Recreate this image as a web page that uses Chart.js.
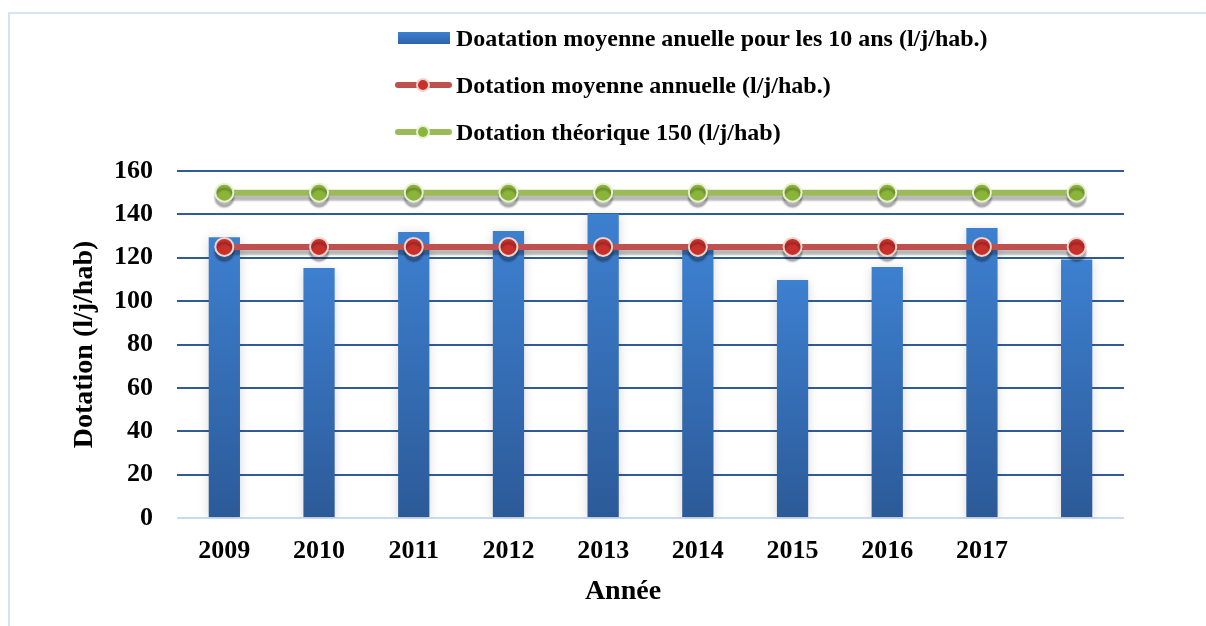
<!DOCTYPE html>
<html>
<head>
<meta charset="utf-8">
<script src="https://cdn.jsdelivr.net/npm/chart.js@4"></script>
<style>
  html, body { margin: 0; padding: 0; background: #fff; overflow: hidden; }
  body { width: 1206px; height: 626px; position: relative; font-family: "Liberation Serif", serif; }
  #frame { position: absolute; left: 8px; top: 12px; width: 1400px; height: 800px; border: 2px solid #d6e3f4; box-sizing: border-box; }
  #chart { position: absolute; left: 0; top: 0; }
  .leg { position: absolute; left: 395px; height: 30px; display: flex; align-items: center; font-weight: bold; font-size: 24px; color: #000; white-space: nowrap; }
  .sw { position: relative; width: 57px; height: 30px; margin-right: 4px; }
  .sw .rect { position: absolute; left: 3px; top: 9px; width: 52px; height: 12px; background: linear-gradient(#3d80d0, #2e62a8); }
  .sw .ln { position: absolute; left: 0; top: 12px; width: 57px; height: 6px; border-radius: 3px; }
  .sw .dot { position: absolute; left: 21px; top: 8px; width: 10px; height: 10px; border-radius: 50%; border: 2px solid; }
  #xtitle { position: absolute; left: 523px; width: 200px; top: 574px; text-align: center; font-weight: bold; font-size: 28px; }
</style>
</head>
<body>
<div id="frame"></div>
<canvas id="chart" width="1206" height="626"></canvas>
<div id="legend"></div>
<div id="xtitle"></div>
<script>
document.addEventListener("DOMContentLoaded", function() {
    const years = ['2009', '2010', '2011', '2012', '2013', '2014', '2015', '2016', '2017', ''];
    const dotationDixAns = [129.5, 115.3, 131.9, 132.3, 140.3, 123.6, 109.7, 115.7, 133.7, 119.2];
    const dotationMoyenne = [125, 125, 125, 125, 125, 125, 125, 125, 125, 125];
    const dotationTheorique = [150, 150, 150, 150, 150, 150, 150, 150, 150, 150];
    const yTicks = [0, 20, 40, 60, 80, 100, 120, 140, 160];

    const labelBar = 'Doatation moyenne anuelle pour les 10 ans (l/j/hab.)';
    const labelMoy = 'Dotation moyenne annuelle (l/j/hab.)';
    const labelTheo = 'Dotation théorique 150 (l/j/hab)';
    const yTitle = 'Dotation (l/j/hab)';
    const xTitle = 'Année';

    const serif = '"Liberation Serif", "Times New Roman", serif';

    // gradient per bar, from its own top to the axis
    function barGradient(context) {
        const chart = context.chart;
        if (!chart.chartArea || context.parsed === undefined) return '#3774c4';
        const yScale = chart.scales.y;
        const top = yScale.getPixelForValue(context.parsed.y);
        const bottom = yScale.getPixelForValue(0);
        const g = chart.ctx.createLinearGradient(0, top, 0, bottom);
        g.addColorStop(0, '#3d80d0');
        g.addColorStop(1, '#2c5a98');
        return g;
    }

    // soft shadows like the office chart
    const shadows = {
        id: 'shadows',
        beforeDatasetDraw(chart, args) {
            const ctx = chart.ctx;
            ctx.save();
            if (args.meta.type === 'bar') {
                ctx.shadowColor = 'rgba(0,0,0,0.16)';
                ctx.shadowBlur = 10;
                ctx.shadowOffsetY = 2;
            } else {
                ctx.shadowColor = 'rgba(0,0,0,0.28)';
                ctx.shadowBlur = 2;
                ctx.shadowOffsetY = 5;
            }
        },
        afterDatasetDraw(chart) {
            chart.ctx.restore();
        }
    };

    const data = {
        labels: years,
        datasets: [
            {
                type: 'bar',
                label: labelBar,
                data: dotationDixAns,
                backgroundColor: barGradient,
                categoryPercentage: 1,
                barPercentage: 0.33,
                order: 3
            },
            {
                type: 'line',
                label: labelMoy,
                data: dotationMoyenne,
                borderColor: '#c0504d',
                borderWidth: 6,
                pointRadius: 9,
                pointBackgroundColor: '#c8302c',
                pointBorderColor: '#f0d4cc',
                pointBorderWidth: 2,
                fill: false,
                order: 1
            },
            {
                type: 'line',
                label: labelTheo,
                data: dotationTheorique,
                borderColor: '#9bbb59',
                borderWidth: 6,
                pointRadius: 9,
                pointBackgroundColor: '#8ab43a',
                pointBorderColor: '#e6f0d2',
                pointBorderWidth: 2,
                fill: false,
                order: 2
            }
        ]
    };

    const options = {
        responsive: false,
        animation: false,
        layout: {
            padding: { left: 0, top: 171, right: 82, bottom: 0 }
        },
        scales: {
            x: {
                grid: { display: false },
                border: { display: false },
                ticks: {
                    color: '#000',
                    padding: 10,
                    font: { family: serif, size: 26, weight: 'bold' }
                },
                afterFit: function(scale) { scale.height = 108; }
            },
            y: {
                min: 0,
                max: 160,
                afterBuildTicks: function(scale) {
                    scale.ticks = yTicks.map(v => ({ value: v }));
                },
                grid: {
                    drawTicks: false,
                    lineWidth: 2,
                    color: function(c) { return c.tick && c.tick.value === 0 ? '#c9dbf2' : '#2f5c98'; }
                },
                border: { display: false },
                ticks: {
                    color: '#000',
                    padding: 24,
                    font: { family: serif, size: 26, weight: 'bold' }
                },
                title: {
                    display: true,
                    text: yTitle,
                    color: '#000',
                    padding: { top: 68, bottom: 0 },
                    font: { family: serif, size: 28, weight: 'bold' }
                },
                afterFit: function(scale) { scale.width = 177; }
            }
        },
        plugins: {
            legend: { display: false },
            tooltip: { enabled: false }
        }
    };

    new Chart(document.getElementById('chart'), {
        data: data,
        options: options,
        plugins: [shadows]
    });

    // legend, built from the datasets
    const legend = document.getElementById('legend');
    const rowTops = [23, 70, 117];
    data.datasets.forEach(function(ds, i) {
        const row = document.createElement('div');
        row.className = 'leg';
        row.style.top = rowTops[i] + 'px';
        const sw = document.createElement('div');
        sw.className = 'sw';
        if (ds.type === 'bar') {
            sw.innerHTML = '<div class="rect"></div>';
        } else {
            sw.innerHTML = '<div class="ln" style="background:' + ds.borderColor + '"></div>' +
                '<div class="dot" style="background:' + ds.pointBackgroundColor + ';border-color:' + ds.pointBorderColor + '"></div>';
        }
        row.appendChild(sw);
        const txt = document.createElement('span');
        txt.textContent = ds.label;
        row.appendChild(txt);
        legend.appendChild(row);
    });

    document.getElementById('xtitle').textContent = xTitle;
});
</script>
</body>
</html>
